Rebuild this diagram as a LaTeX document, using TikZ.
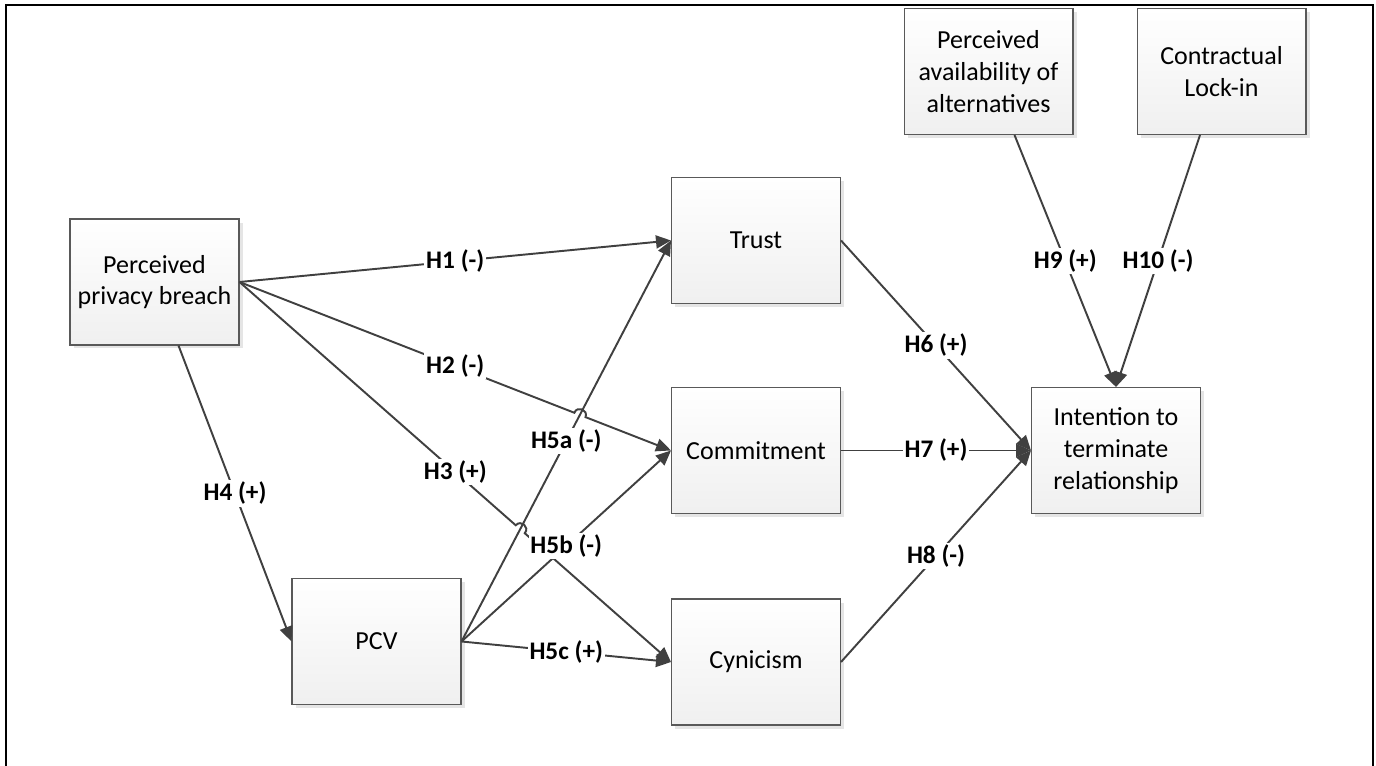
\documentclass[tikz,border=0pt]{standalone}
\usepackage{fontspec}
\setmainfont{Carlito}
\usetikzlibrary{arrows.meta,calc,shadows}
\definecolor{edgegray}{HTML}{404040}
\definecolor{boxline}{HTML}{595959}

\begin{document}
\begin{tikzpicture}[x=0.02cm, y=-0.02cm,
    box/.style={draw=boxline, line width=0.6pt, top color=white, bottom color=black!6,
        minimum width=3.38cm, minimum height=2.52cm, align=center,
        font=\fontsize{14.8}{18}\selectfont,
        drop shadow={shadow xshift=2pt, shadow yshift=-2pt, fill=black!10, opacity=1}},
    hyp/.style={draw=edgegray, line width=1.1pt, -{Triangle[length=0.3cm, width=0.26cm]}},
    lbl/.style={fill=white, inner sep=1pt, font=\fontsize{14.4}{17}\selectfont\bfseries},
    hop/.style={bend left=90, looseness=1.7}]
    \useasboundingbox (0,0) rectangle (1376,766);
    \draw[line width=1.1pt] (6,790) -- (6,5) -- (1373,5) -- (1373,790);

    \node[box] (ppb) at (154.5,282) {Perceived\\privacy breach};
    \node[box] (trust) at (756,240.5) {Trust};
    \node[box] (commit) at (756,450.5) {Commitment};
    \node[box] (cyn) at (756,662) {Cynicism};
    \node[box] (pcv) at (376.5,641.5) {PCV};
    \node[box] (alt) at (988.5,71.5) {Perceived\\availability of\\alternatives};
    \node[box] (lock) at (1221.5,71.5) {Contractual\\Lock-in};
    \node[box] (intent) at (1116,450.5) {Intention to\\terminate\\relationship};

    \coordinate (ppbout) at ([xshift=0.48cm]ppb.south);
    \coordinate (altout) at ([xshift=0.52cm]alt.south);
    \coordinate (lockout) at ([xshift=-0.43cm]lock.south);
    \coordinate (x2) at (intersection of ppb.east--commit.west and pcv.east--trust.west);
    \coordinate (x3) at (intersection of ppb.east--cyn.west and pcv.east--trust.west);

    % from the breach
    \draw[hyp] (ppb.east) -- node[lbl] {H1 (-)} (trust.west);
    \draw[hyp] (ppb.east) -- ($(x2)!0.12cm!(ppb.east)$) to[hop] ($(x2)!0.12cm!(commit.west)$) -- (commit.west);
    \node[lbl] at ($(ppb.east)!0.5!(commit.west)$) {H2 (-)};
    \draw[hyp] (ppb.east) -- ($(x3)!0.12cm!(ppb.east)$) to[hop] ($(x3)!0.12cm!(cyn.west)$) -- (cyn.west);
    \node[lbl] at ($(ppb.east)!0.5!(cyn.west)$) {H3 (+)};
    \draw[hyp] (ppbout) -- node[lbl] {H4 (+)} (pcv.west);

    % from PCV
    \draw[hyp] (pcv.east) -- node[lbl] {H5a (-)} (trust.west);
    \draw[hyp] (pcv.east) -- node[lbl] {H5b (-)} (commit.west);
    \draw[hyp] (pcv.east) -- node[lbl] {H5c (+)} (cyn.west);

    % to the intention
    \draw[hyp] (trust.east) -- node[lbl] {H6 (+)} (intent.west);
    \draw[hyp] (commit.east) -- node[lbl] {H7 (+)} (intent.west);
    \draw[hyp] (cyn.east) -- node[lbl] {H8 (-)} (intent.west);
    \draw[hyp] (altout) -- node[lbl] {H9 (+)} (intent.north);
    \draw[hyp] (lockout) -- node[lbl] {H10 (-)} (intent.north);
\end{tikzpicture}
\end{document}
